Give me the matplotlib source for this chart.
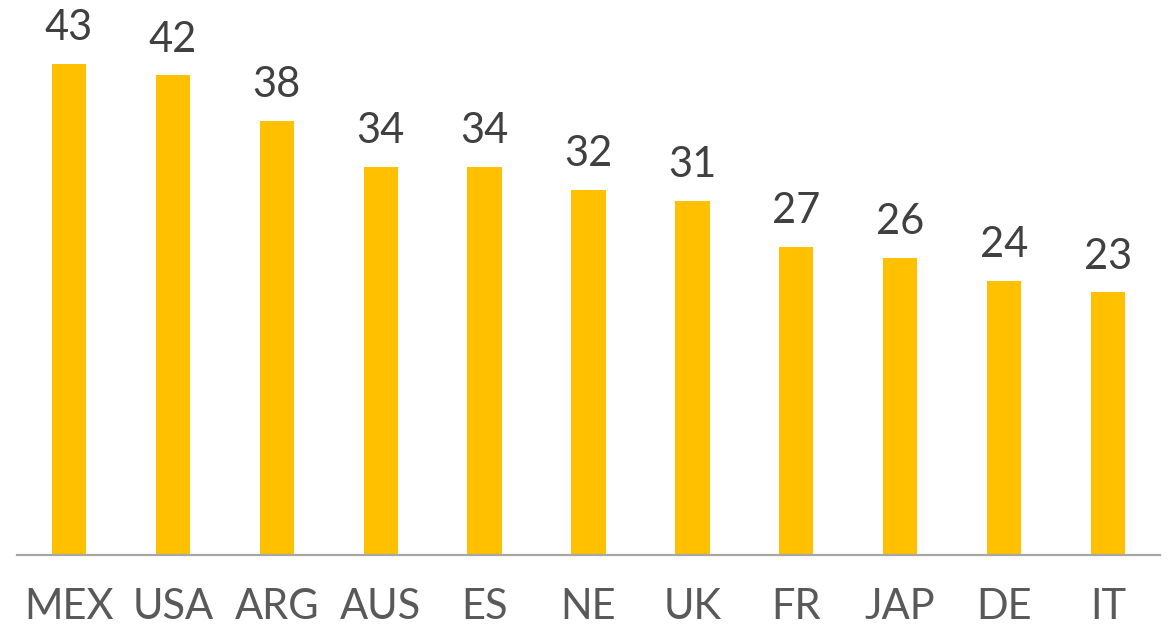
import matplotlib
matplotlib.use('Agg')
import matplotlib.pyplot as plt

countries = ['MEX', 'USA', 'ARG', 'AUS', 'ES', 'NE', 'UK', 'FR', 'JAP', 'DE', 'IT']
values = [43, 42, 38, 34, 34, 32, 31, 27, 26, 24, 23]

plt.rcParams['font.family'] = ['Lato', 'DejaVu Sans']

fig = plt.figure(figsize=(11.73, 6.28), dpi=100)
ax = fig.add_axes([17/1173, 73/628, 1143/1173, 555/628])

x = range(len(countries))
bars = ax.bar(x, values, width=0.33, color='#FFC000', zorder=2)

# value labels above each bar
for xi, v in zip(x, values):
    ax.annotate(str(v), (xi, v), xytext=(0, 12), textcoords='offset points',
                ha='center', va='bottom', fontsize=30, color='#404040')

ax.set_xlim(-0.5, len(countries) - 0.5)
ax.set_ylim(0, 48.6)
ax.set_xticks(list(x))
ax.set_xticklabels(countries, fontsize=30, color='#595959')
ax.tick_params(axis='x', length=0, pad=24)
ax.set_yticks([])

for side in ['top', 'right', 'left']:
    ax.spines[side].set_visible(False)
ax.spines['bottom'].set_color('#A6A6A6')
ax.spines['bottom'].set_linewidth(1.6)

fig.savefig('out.png', dpi=100)
